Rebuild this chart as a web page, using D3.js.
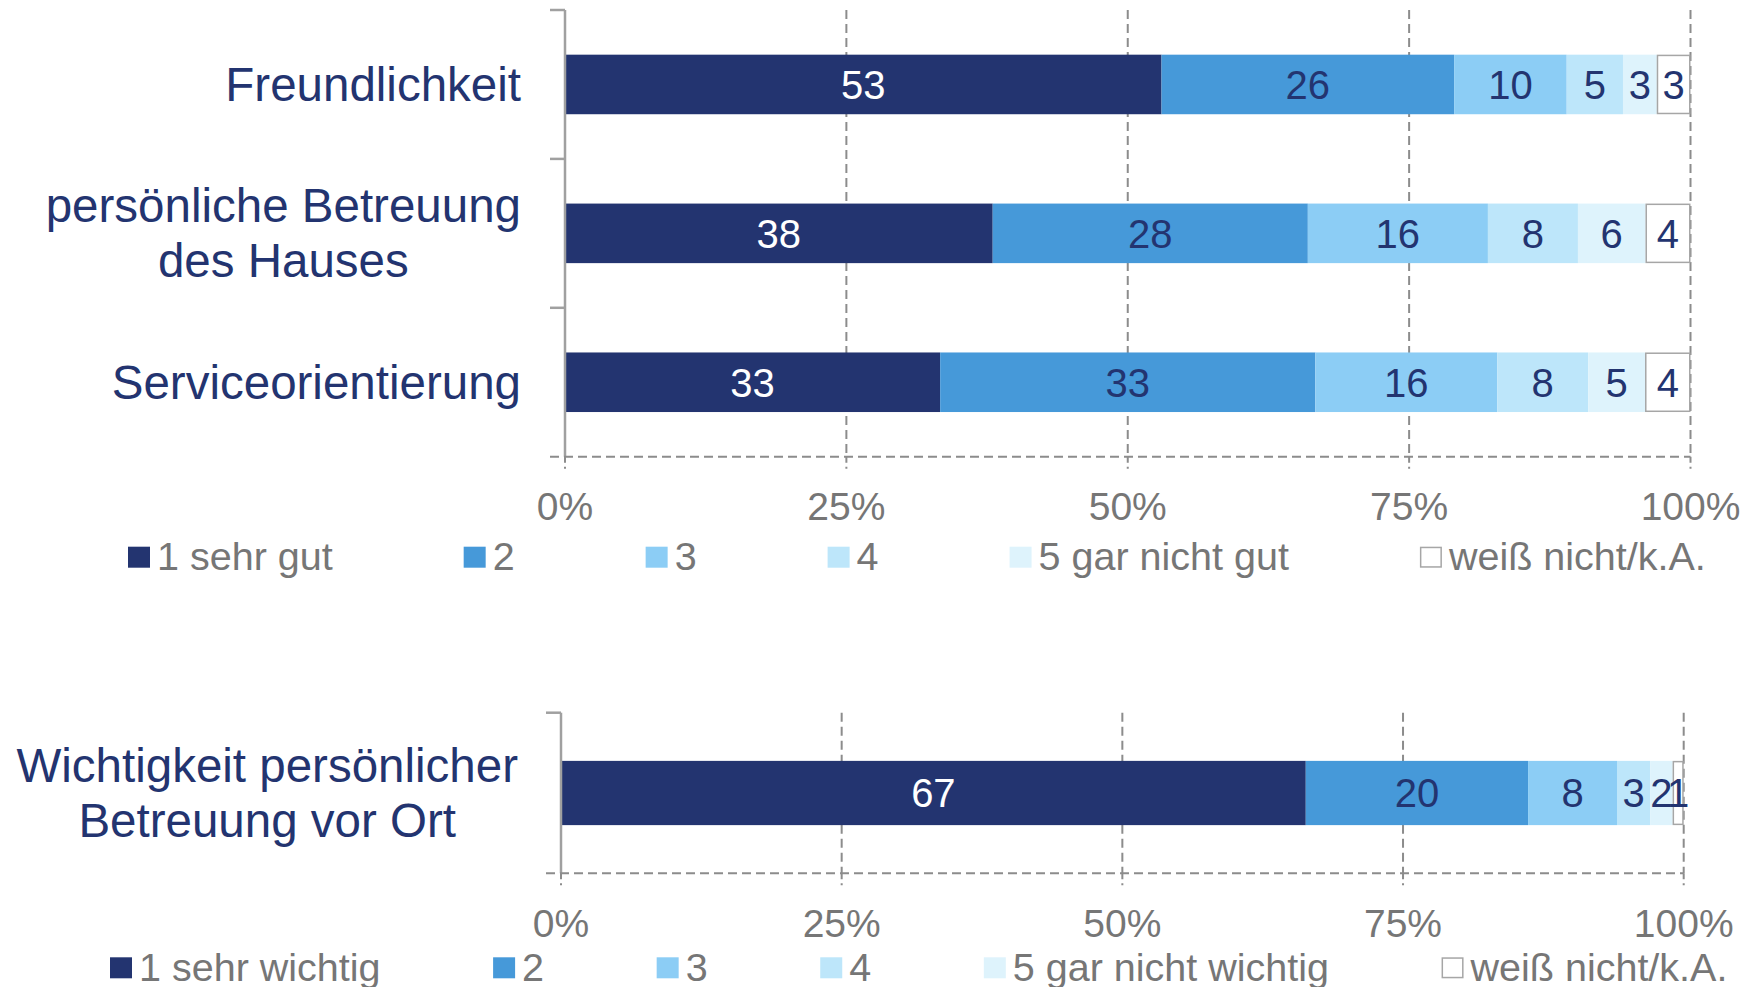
<!DOCTYPE html>
<html>

<head>
    <meta charset="UTF-8">
    <title>Bewertung</title>
    <script src="https://d3js.org/d3.v7.min.js"></script>
    <style>
        body {
            margin: 0;
            background-color: white;
        }
        svg text {
            font-family: "Liberation Sans", Arial, sans-serif;
        }
    </style>
</head>

<body>
    <div id="chart"></div>
    <script>
        // data
        var topCategories = [['Freundlichkeit'], ['persönliche Betreuung', 'des Hauses'], ['Serviceorientierung']];
        var topSeries = ['1 sehr gut', '2', '3', '4', '5 gar nicht gut', 'weiß nicht/k.A.'];
        var topValues = [
            [53, 26, 10, 5, 3, 3],
            [38, 28, 16, 8, 6, 4],
            [33, 33, 16, 8, 5, 4]
        ];

        var bottomCategories = [['Wichtigkeit persönlicher', 'Betreuung vor Ort']];
        var bottomSeries = ['1 sehr wichtig', '2', '3', '4', '5 gar nicht wichtig', 'weiß nicht/k.A.'];
        var bottomValues = [
            [67, 20, 8, 3, 2, 1]
        ];

        var tickValues = [0, 0.25, 0.5, 0.75, 1];
        var tickLabels = ['0%', '25%', '50%', '75%', '100%'];

        (function(d3) {

            var width = 1760;
            var height = 987;
            var colors = ['#233470', '#4699d9', '#8ccdf5', '#bde6fa', '#def3fc', '#ffffff'];
            var navy = '#233470';
            var grey = '#767676';
            var gridColor = '#8c8c8c';

            var svg = d3.select('#chart')
                .append('svg')
                    .attr('width', width)
                    .attr('height', height);

            function drawPanel(cfg) {
                var g = svg.append('g');

                var x = d3.scaleLinear()
                    .domain([0, 1])
                    .range([cfg.x0, cfg.x1]);

                var y = d3.scaleBand()
                    .domain(d3.range(cfg.categories.length))
                    .range([cfg.yTop, cfg.yBottom])
                    .paddingInner(0.6)
                    .paddingOuter(0.3);

                var keys = d3.range(cfg.series.length);
                var stack = d3.stack()
                    .keys(keys)
                    .value(function(d, k) { return d[k]; })
                    .offset(d3.stackOffsetExpand);
                var layers = stack(cfg.values);

                // gridlines
                g.selectAll('.grid')
                    .data(tickValues.slice(1))
                    .enter()
                    .append('line')
                    .attr('x1', function(d) { return x(d); })
                    .attr('x2', function(d) { return x(d); })
                    .attr('y1', cfg.yTop)
                    .attr('y2', cfg.yBottom)
                    .attr('stroke', gridColor)
                    .attr('stroke-width', 2)
                    .attr('stroke-dasharray', '9,5');

                // bars
                var layer = g.selectAll('.layer')
                    .data(layers)
                    .enter()
                    .append('g')
                    .attr('fill', function(d, i) { return colors[i]; });

                layer.selectAll('rect')
                    .data(function(d) { return d.map(function(p, j) { return { p: p, j: j, k: d.key }; }); })
                    .enter()
                    .append('rect')
                    .attr('x', function(d) { return x(d.p[0]) + (d.k === 5 ? 0.75 : 0); })
                    .attr('y', function(d) { return y(d.j) + (d.k === 5 ? 0.75 : 0); })
                    .attr('width', function(d) { return x(d.p[1]) - x(d.p[0]) - (d.k === 5 ? 1.5 : 0); })
                    .attr('height', function(d) { return y.bandwidth() - (d.k === 5 ? 1.5 : 0); })
                    .attr('stroke', function(d) { return d.k === 5 ? '#a6a6a6' : 'none'; })
                    .attr('stroke-width', 1.5);

                // value labels
                layer.selectAll('text')
                    .data(function(d) { return d.map(function(p, j) { return { p: p, j: j, k: d.key, v: cfg.values[j][d.key] }; }); })
                    .enter()
                    .append('text')
                    .attr('x', function(d) { return (x(d.p[0]) + x(d.p[1])) / 2; })
                    .attr('y', function(d) { return y(d.j) + y.bandwidth() / 2; })
                    .attr('dy', '0.36em')
                    .attr('text-anchor', 'middle')
                    .attr('font-size', 40)
                    .attr('fill', function(d) { return d.k === 0 ? '#ffffff' : navy; })
                    .text(function(d) { return d.v; });

                // y axis line and ticks at band boundaries
                g.append('line')
                    .attr('x1', cfg.x0)
                    .attr('x2', cfg.x0)
                    .attr('y1', cfg.yTop)
                    .attr('y2', cfg.yBottom)
                    .attr('stroke', '#a0a0a0')
                    .attr('stroke-width', 2.5);

                var step = y.step();
                var bounds = d3.range(cfg.categories.length).map(function(i) { return cfg.yTop + i * step; });
                g.selectAll('.ytick')
                    .data(bounds)
                    .enter()
                    .append('line')
                    .attr('x1', cfg.x0 - 15)
                    .attr('x2', cfg.x0)
                    .attr('y1', function(d) { return d; })
                    .attr('y2', function(d) { return d; })
                    .attr('stroke', '#a0a0a0')
                    .attr('stroke-width', 2.5);

                // x axis (dashed) with ticks
                g.append('line')
                    .attr('x1', cfg.x0 - 15)
                    .attr('x2', cfg.x1)
                    .attr('y1', cfg.yBottom)
                    .attr('y2', cfg.yBottom)
                    .attr('stroke', gridColor)
                    .attr('stroke-width', 2)
                    .attr('stroke-dasharray', '9,5');

                g.selectAll('.xtick')
                    .data(tickValues)
                    .enter()
                    .append('line')
                    .attr('x1', function(d) { return x(d); })
                    .attr('x2', function(d) { return x(d); })
                    .attr('y1', cfg.yBottom)
                    .attr('y2', cfg.yBottom + 12)
                    .attr('stroke', gridColor)
                    .attr('stroke-width', 2)
                    .attr('stroke-dasharray', '6,4');

                g.selectAll('.xlabel')
                    .data(tickValues)
                    .enter()
                    .append('text')
                    .attr('x', function(d) { return x(d); })
                    .attr('y', cfg.tickBaseline)
                    .attr('text-anchor', 'middle')
                    .attr('font-size', 39)
                    .attr('fill', grey)
                    .text(function(d, i) { return tickLabels[i]; });

                // category labels: block right aligned, lines centred
                cfg.categories.forEach(function(lines, i) {
                    var cy = y(i) + y.bandwidth() / 2;
                    var lab = g.append('g');
                    var texts = lab.selectAll('text')
                        .data(lines)
                        .enter()
                        .append('text')
                        .attr('font-size', 47.5)
                        .attr('fill', navy)
                        .attr('text-anchor', 'middle')
                        .attr('y', function(d, k) { return cy + (k - (lines.length - 1) / 2) * 55; })
                        .attr('dy', '0.35em')
                        .text(function(d) { return d; });
                    var maxW = 0;
                    texts.each(function() { maxW = Math.max(maxW, this.getComputedTextLength()); });
                    texts.attr('x', cfg.labelRight - maxW / 2);
                });

                // legend
                var cursor = cfg.legendX;
                cfg.series.forEach(function(name, i) {
                    g.append('rect')
                        .attr('x', cursor + (i === 5 ? 0.75 : 0))
                        .attr('y', cfg.legendTop + (i === 5 ? 0.75 : 0))
                        .attr('width', 22 - (i === 5 ? 1.5 : 0))
                        .attr('height', 21 - (i === 5 ? 1.5 : 0))
                        .attr('fill', colors[i])
                        .attr('stroke', i === 5 ? '#a6a6a6' : 'none')
                        .attr('stroke-width', 1.5);
                    var t = g.append('text')
                        .attr('x', cursor + 29)
                        .attr('y', cfg.legendTop + 23.3)
                        .attr('font-size', 39.5)
                        .attr('fill', grey)
                        .text(name);
                    cursor += 29 + t.node().getComputedTextLength() + cfg.legendGap;
                });
            }

            drawPanel({
                categories: topCategories,
                series: topSeries,
                values: topValues,
                x0: 565, x1: 1690.5,
                yTop: 10, yBottom: 456.7,
                labelRight: 521,
                tickBaseline: 520,
                legendX: 128, legendTop: 546.7, legendGap: 131
            });

            drawPanel({
                categories: bottomCategories,
                series: bottomSeries,
                values: bottomValues,
                x0: 561, x1: 1683.7,
                yTop: 712.7, yBottom: 873.3,
                labelRight: 518,
                tickBaseline: 937,
                legendX: 110, legendTop: 957.3, legendGap: 112.6
            });

        })(window.d3);
    </script>
</body>

</html>
